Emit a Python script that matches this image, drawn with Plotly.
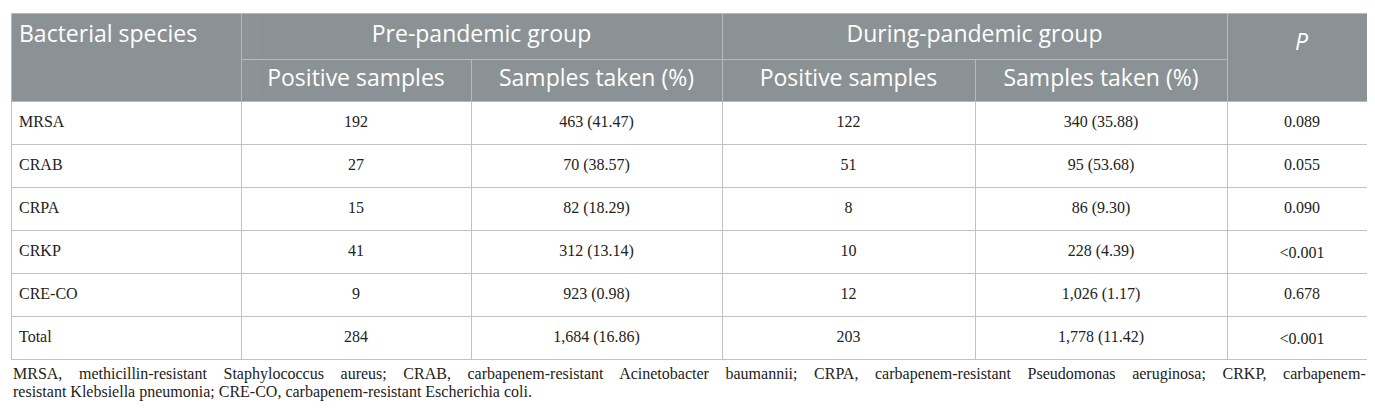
import plotly.graph_objects as go

# * Table values
species = ["MRSA", "CRAB", "CRPA", "CRKP", "CRE-CO", "Total"]
pre_positive = [192, 27, 15, 41, 9, 284]
pre_taken = [463, 70, 82, 312, 923, 1684]
pre_pct = [41.47, 38.57, 18.29, 13.14, 0.98, 16.86]
during_positive = [122, 51, 8, 10, 12, 203]
during_taken = [340, 95, 86, 228, 1026, 1778]
during_pct = [35.88, 53.68, 9.30, 4.39, 1.17, 11.42]
p_values = ["0.089", "0.055", "0.090", "&lt;0.001", "0.678", "&lt;0.001"]

group_labels = ["Bacterial species", "Pre-pandemic group", "During-pandemic group", "<i>P</i>"]
sub_labels = ["", "Positive samples", "Samples taken (%)", "Positive samples", "Samples taken (%)", ""]
footnote_lines = [
    "MRSA, methicillin-resistant Staphylococcus aureus; CRAB, carbapenem-resistant Acinetobacter baumannii; "
    "CRPA, carbapenem-resistant Pseudomonas aeruginosa; CRKP, carbapenem-",
    "resistant Klebsiella pneumonia; CRE-CO, carbapenem-resistant Escherichia coli.",
]

W, H = 1375, 408
HEAD_FILL = "#8b9295"
HEAD_LINE = "#b4b9bb"
BODY_LINE = "#c2c2c2"
NONE = "rgba(0,0,0,0)"
head_font = dict(family="Open Sans", size=23, color="white")
body_font = dict(family="Liberation Serif", size=16, color="#222222")

def fmt(n, p):
    return f"{n:,} ({p:.2f})"

pre_col = [fmt(n, p) for n, p in zip(pre_taken, pre_pct)]
during_col = [fmt(n, p) for n, p in zip(during_taken, during_pct)]
body_values = [species, pre_positive, pre_col, during_positive, during_col, p_values]

def px(y):
    # * pixel row from top -> paper fraction
    return 1 - y / H

left, right = 3 / W, 1369 / W
wide_cols = [230, 481, 505, 150]
narrow_cols = [230, 230, 251, 253, 252, 150]

def grid(x0, x1, y_top, cols, head_h, rows=0):
    # * fills and lines only, no text
    return go.Table(
        domain=dict(x=[x0, x1], y=[0, px(y_top)]), columnwidth=cols,
        header=dict(values=[""] * len(cols), fill_color=HEAD_FILL, line_color=HEAD_LINE, height=head_h),
        cells=dict(values=[[""] * rows] * len(cols), fill_color="white", line_color=BODY_LINE,
                   height=43 if rows else 0),
    )

fig = go.Figure()
fig.add_trace(grid(left, right, 5, wide_cols, 46))
fig.add_trace(grid(left, right, 51, narrow_cols, 42, rows=len(species)))
fig.add_trace(grid(left, 233 / W, 5, [230], 88))       # * "Bacterial species" spans both header rows
fig.add_trace(grid(1219 / W, right, 5, [150], 88))     # * so does P

# * text layers, placed so each label sits in the middle of its row
fig.add_trace(go.Table(
    domain=dict(x=[left, right], y=[px(70), px(9.2)]), columnwidth=wide_cols,
    header=dict(values=group_labels, fill_color=NONE, line_color=NONE, font=head_font,
                align=["left", "center", "center", "center"], height=60),
    cells=dict(values=[[], [], [], []], height=0),
))
fig.add_trace(go.Table(
    domain=dict(x=[left, right], y=[px(114), px(53.2)]), columnwidth=narrow_cols,
    header=dict(values=sub_labels, fill_color=NONE, line_color=NONE, font=head_font,
                align="center", height=60),
    cells=dict(values=[[]] * len(narrow_cols), height=0),
))
fig.add_trace(go.Table(
    domain=dict(x=[left, right], y=[0, px(56.5)]), columnwidth=narrow_cols,
    header=dict(values=[""] * len(body_values), fill_color=NONE, line_color=NONE, height=42),
    cells=dict(values=body_values, fill_color=NONE, line_color=NONE, font=body_font,
               align=["left", "center", "center", "center", "center", "center"], height=43),
))

for i, (text, y) in enumerate(zip(footnote_lines, [366, 384])):
    spacing = 12.6 if i == 0 else 0  # * first line is justified in the reference
    fig.add_annotation(text=f'<span style="word-spacing:{spacing}px">{text}</span>', x=left, y=px(y),
                       xref="paper", yref="paper", xanchor="left", yanchor="middle",
                       align="left", showarrow=False,
                       font=dict(family="Liberation Serif", size=16, color="#222222"))

fig.update_layout(width=W, height=H, margin=dict(l=0, r=0, t=0, b=0),
                  paper_bgcolor="white", plot_bgcolor="white")
fig.write_html("out.html")
